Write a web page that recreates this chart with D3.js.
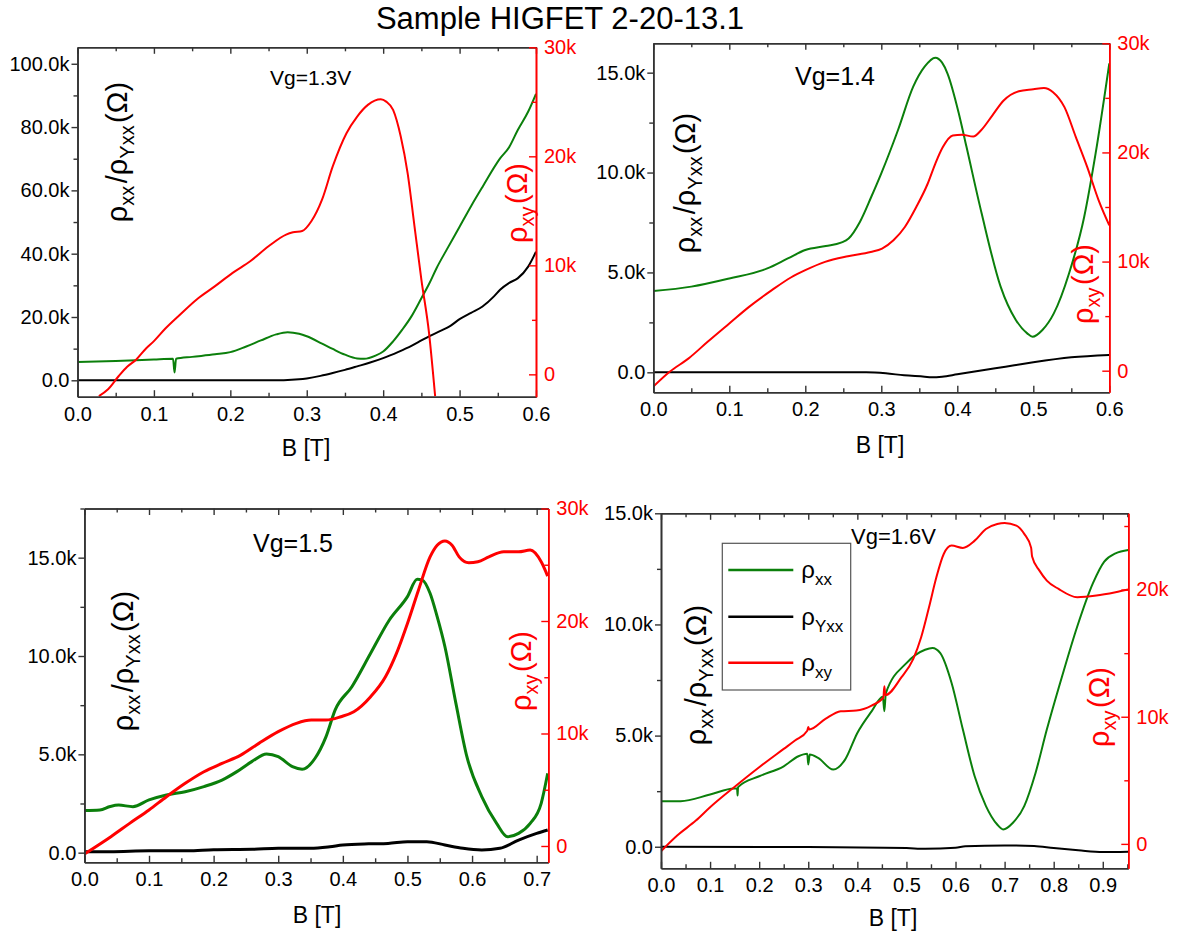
<!DOCTYPE html>
<html>
<head>
<meta charset="utf-8">
<script src="https://cdn.jsdelivr.net/npm/d3@7"></script>
<style>
  body { margin: 0; background: #fff; }
  svg { font-family: "Liberation Sans", Arial, sans-serif; }
</style>
</head>
<body>
<svg id="chart" width="1179" height="940"></svg>
<script>
// ---- Data (B in tesla, resistances in kΩ) ----

const TITLE = "Sample HIGFET 2-20-13.1";

// Vg = 1.3 V
const rxx13 = [[0,5.8],[0.05,6.1],[0.1,6.6],[0.125,6.8],[0.127,2.5],[0.129,6.8],[0.15,7.4],[0.18,8.2],[0.2,8.9],
  [0.22,10.6],[0.24,12.6],[0.26,14.5],[0.275,15.2],[0.29,14.7],[0.3,13.9],[0.32,11.6],[0.334,9.9],[0.35,8.1],
  [0.366,6.9],[0.375,6.8],[0.39,7.8],[0.4,9.1],[0.413,12.3],[0.425,16],[0.437,20.2],[0.45,25.9],[0.46,30.4],
  [0.47,35.5],[0.483,41.2],[0.5,48.5],[0.515,55],[0.53,61.1],[0.553,70.1],[0.565,73.7],[0.576,79],[0.59,85],[0.6,90.5]];
const rYxx13 = [[0,0],[0.1,0],[0.2,0],[0.27,0.05],[0.29,0.3],[0.3,0.6],[0.318,1.4],[0.334,2.3],[0.35,3.3],[0.366,4.4],
  [0.383,5.6],[0.4,7.0],[0.42,9.0],[0.437,10.9],[0.45,12.6],[0.46,13.9],[0.475,15.6],[0.488,17.2],[0.5,19.3],
  [0.515,21.3],[0.53,23.3],[0.545,26.5],[0.553,28.6],[0.565,30.8],[0.576,32.2],[0.59,36],[0.6,40.6]];
const rxy13 = [[0.028,-2.0],[0.04,-1.37],[0.054,-0.15],[0.065,0.7],[0.077,1.37],[0.09,2.4],[0.1,3.05],[0.115,4.2],
  [0.133,5.4],[0.156,6.87],[0.18,8.09],[0.203,9.31],[0.226,10.37],[0.25,11.75],[0.273,12.82],[0.282,13.03],
  [0.294,13.15],[0.306,14.04],[0.32,16.02],[0.334,19.07],[0.352,22.12],[0.366,23.65],[0.38,24.72],[0.397,25.24],
  [0.404,25.02],[0.413,24.26],[0.423,21.82],[0.432,18.46],[0.441,13.58],[0.45,8.7],[0.46,3.81],[0.468,-2.0]];

// Vg = 1.4 V
const rxx14 = [[0,4.07],[0.05,4.29],[0.1,4.7],[0.15,5.2],[0.177,5.7],[0.2,6.12],[0.227,6.32],[0.247,6.49],[0.257,6.7],
  [0.272,7.54],[0.287,8.8],[0.3,9.96],[0.322,12.13],[0.342,14.3],[0.357,15.3],[0.371,15.75],[0.38,15.5],[0.387,14.97],
  [0.402,12.96],[0.412,11.3],[0.432,7.96],[0.457,4.29],[0.477,2.62],[0.492,1.95],[0.499,1.78],[0.512,2.12],
  [0.527,2.95],[0.547,4.95],[0.567,7.79],[0.582,10.96],[0.6,15.47]];
const rYxx14 = [[0,0],[0.1,0],[0.2,0],[0.28,0],[0.306,-0.05],[0.33,-0.15],[0.357,-0.22],[0.366,-0.25],[0.38,-0.22],
  [0.4,-0.1],[0.425,0.05],[0.45,0.2],[0.475,0.35],[0.5,0.5],[0.55,0.75],[0.6,0.87]];
const rxy14 = [[0,-1.46],[0.0215,-0.1],[0.0465,1.13],[0.0715,2.65],[0.1,4.33],[0.126,5.85],[0.156,7.38],[0.181,8.54],
  [0.2,9.21],[0.226,9.97],[0.256,10.49],[0.286,10.88],[0.301,11.19],[0.316,11.95],[0.331,13.17],[0.346,15],
  [0.361,17.13],[0.371,18.96],[0.381,20.49],[0.394,21.55],[0.406,21.62],[0.421,21.46],[0.431,22.01],[0.446,23.38],
  [0.461,24.76],[0.481,25.61],[0.5,25.79],[0.514,25.91],[0.526,25.52],[0.541,24.15],[0.556,21.4],[0.571,18.66],
  [0.586,15.61],[0.6,13.32]];

// Vg = 1.5 V
const rxx15 = [[0,2.14],[0.024,2.17],[0.04,2.35],[0.053,2.42],[0.075,2.34],[0.1,2.68],[0.127,2.93],[0.156,3.1],
  [0.185,3.36],[0.213,3.69],[0.236,4.12],[0.259,4.63],[0.282,5.02],[0.3,4.88],[0.322,4.37],[0.337,4.24],[0.357,4.8],
  [0.374,5.9],[0.388,7.25],[0.414,8.44],[0.443,10.14],[0.472,11.83],[0.5,13.02],[0.515,13.9],[0.523,13.86],
  [0.535,13.19],[0.546,12.0],[0.558,10.47],[0.575,7.59],[0.592,4.88],[0.615,2.85],[0.638,1.49],[0.655,0.81],
  [0.672,0.98],[0.69,1.49],[0.707,2.51],[0.717,4.03]];
const rYxx15 = [[0,0.05],[0.04,0.05],[0.1,0.1],[0.16,0.1],[0.2,0.15],[0.26,0.17],[0.3,0.22],[0.35,0.22],[0.38,0.3],
  [0.4,0.39],[0.44,0.45],[0.47,0.47],[0.5,0.56],[0.53,0.56],[0.558,0.39],[0.586,0.22],[0.615,0.14],[0.643,0.22],
  [0.672,0.64],[0.7,0.98],[0.717,1.15]];
const rxy15 = [[0,-0.71],[0.041,0.83],[0.07,2.01],[0.1,3.2],[0.127,4.38],[0.156,5.57],[0.185,6.6],[0.213,7.34],
  [0.242,8.08],[0.27,9.12],[0.3,10.16],[0.328,10.9],[0.351,11.19],[0.374,11.19],[0.397,11.49],[0.417,11.93],
  [0.443,13.27],[0.466,15.04],[0.483,17.12],[0.5,19.78],[0.517,22.74],[0.535,25.7],[0.546,26.74],[0.558,27.12],
  [0.569,26.74],[0.58,25.7],[0.595,25.17],[0.609,25.26],[0.626,25.7],[0.649,26.15],[0.672,26.15],[0.69,26.3],
  [0.707,25.26],[0.717,23.99]];

// Vg = 1.6 V
const rxx16 = [[0,2.05],[0.04,2.05],[0.1,2.35],[0.149,2.62],[0.155,2.62],[0.156,2.3],[0.157,2.68],[0.2,3.17],
  [0.25,3.62],[0.28,4.07],[0.298,4.18],[0.3,3.7],[0.303,4.15],[0.32,4.0],[0.351,3.47],[0.375,3.92],[0.4,5.12],
  [0.429,6.09],[0.452,6.75],[0.455,6.1],[0.458,6.9],[0.5,8.26],[0.538,8.86],[0.553,8.94],[0.569,8.71],[0.592,7.37],
  [0.615,5.27],[0.639,3.17],[0.662,1.83],[0.685,1.0],[0.697,0.78],[0.717,1.08],[0.74,1.83],[0.763,3.32],
  [0.786,5.27],[0.817,7.66],[0.848,9.91],[0.88,11.86],[0.903,12.83],[0.926,13.2],[0.952,13.35]];
const rYxx16 = [[0,0],[0.3,-0.01],[0.5,-0.06],[0.538,-0.09],[0.6,-0.05],[0.62,0.02],[0.7,0.06],[0.76,0.03],
  [0.8,-0.06],[0.85,-0.16],[0.9,-0.24],[0.952,-0.22]];
const rxy16 = [[0,-0.58],[0.033,0.66],[0.071,1.83],[0.1,2.88],[0.149,4.46],[0.2,6.03],[0.25,7.47],[0.273,8.13],
  [0.298,8.9],[0.3,9.2],[0.302,9.0],[0.335,9.83],[0.366,10.43],[0.398,10.49],[0.429,10.88],[0.453,11.5],
  [0.455,12.4],[0.457,11.7],[0.49,13.11],[0.514,14.55],[0.53,16.25],[0.546,18.61],[0.561,20.97],[0.576,22.8],
  [0.592,23.46],[0.615,23.28],[0.639,23.85],[0.662,24.77],[0.685,25.16],[0.7,25.24],[0.724,25.03],[0.74,24.38],
  [0.754,23.3],[0.756,22.6],[0.771,21.49],[0.786,20.71],[0.81,20.05],[0.848,19.4],[0.887,19.53],[0.926,19.79],
  [0.952,20.0]];

// Tick values
const bTicks06 = [0, 0.1, 0.2, 0.3, 0.4, 0.5, 0.6];
const bTicks07 = [0, 0.1, 0.2, 0.3, 0.4, 0.5, 0.6, 0.7];
const bTicks09 = [0, 0.1, 0.2, 0.3, 0.4, 0.5, 0.6, 0.7, 0.8, 0.9];
const leftTicks13 = [0, 20, 40, 60, 80, 100];
const leftTicks15k = [0, 5, 10, 15];
const rightTicks30 = [0, 10, 20, 30];
const rightTicks20 = [0, 10, 20];

// Legend entries
const legendLabels = [["ρ", "xx"], ["ρ", "Yxx"], ["ρ", "xy"]];

const GREEN = "#0b7f0b", BLACK = "#000000", RED = "#ff0000", FRAME = "#333333";
const TICK_FONT = 20;

// ---- Layout of the four panels ----
const panels = [
  { box: [77.5, 536, 47.3, 396.7], xDom: [0, 0.6], xTicks: bTicks06, xMinor: 0.05,
    lDom: [-5.18, 105.2], lTicks: leftTicks13, lMinor: 10,
    rDom: [-2.05, 30], rTicks: rightTicks30, rMinor: 5,
    vg: { text: "Vg=1.3V", x: 270, y: 85, size: 21 },
    lTitle: [127, 152], rTitle: [527, 203], xTitle: [306, 456], width: 2,
    series: [[rxx13, "l", GREEN], [rYxx13, "l", BLACK], [rxy13, "r", RED]] },
  { box: [653.3, 1109.3, 43.3, 392.3], xDom: [0, 0.6], xTicks: bTicks06, xMinor: 0.05,
    lDom: [-1.0, 16.47], lTicks: leftTicks15k, lMinor: 2.5,
    rDom: [-1.98, 30], rTicks: rightTicks30, rMinor: 5,
    vg: { text: "Vg=1.4", x: 795, y: 85, size: 25 },
    lTitle: [695, 183], rTitle: [1093, 284], xTitle: [880, 453], width: 2,
    series: [[rxx14, "l", GREEN], [rYxx14, "l", BLACK], [rxy14, "r", RED]] },
  { box: [84.4, 548.3, 508.5, 862.3], xDom: [0, 0.718], xTicks: bTicks07, xMinor: 0.05,
    lDom: [-0.49, 17.5], lTicks: leftTicks15k, lMinor: 2.5,
    rDom: [-1.45, 30], rTicks: rightTicks30, rMinor: 5,
    vg: { text: "Vg=1.5", x: 253, y: 552, size: 25 },
    lTitle: [133, 661], rTitle: [531, 671], xTitle: [317, 923], width: 3,
    series: [[rxx15, "l", GREEN], [rYxx15, "l", BLACK], [rxy15, "r", RED]] },
  { box: [661, 1128.3, 513.3, 868.3], xDom: [0, 0.952], xTicks: bTicks09, xMinor: 0.05,
    lDom: [-0.97, 15], lTicks: leftTicks15k, lMinor: 2.5,
    rDom: [-1.92, 26], rTicks: rightTicks20, rMinor: 5,
    vg: { text: "Vg=1.6V", x: 851, y: 544, size: 22 },
    lTitle: [706, 675], rTitle: [1109, 707], xTitle: [893, 926], width: 2,
    series: [[rxx16, "l", GREEN], [rYxx16, "l", BLACK], [rxy16, "r", RED]],
    legend: { box: [722.3, 543.3, 128.4, 146.7], rows: [570, 616.7, 662.7] } }
];

const svg = d3.select("#chart");

svg.append("text")
  .attr("x", 560).attr("y", 29)
  .attr("text-anchor", "middle")
  .attr("font-size", 31)
  .attr("fill", "#000")
  .text(TITLE);

function range(a, b, step) {
  const out = [];
  for (let i = 0; a + i * step <= b + 1e-9; i++) out.push(+(a + i * step).toFixed(4));
  return out;
}

const fmtLeft = v => v === 0 ? "0.0" : d3.format(".1f")(v) + "k";
const fmtRight = v => v === 0 ? "0" : v + "k";
const fmtB = d3.format(".1f");

function styleAxis(g, color) {
  g.select(".domain").attr("stroke", color).attr("stroke-width", 1.6);
  g.selectAll(".tick line").attr("stroke", color).attr("stroke-width", 1.4);
  g.selectAll(".tick text").attr("fill", color).attr("font-size", TICK_FONT)
    .attr("font-family", "Liberation Sans, Arial, sans-serif");
}

// rotated axis title made of main glyphs and subscripts
function rotatedTitle(parent, x, y, parts, color) {
  const t = parent.append("text")
    .attr("transform", `translate(${x},${y}) rotate(-90)`)
    .attr("text-anchor", "middle")
    .attr("fill", color)
    .attr("font-size", 29);
  parts.forEach(([txt, sub]) => {
    if (sub) {
      t.append("tspan").attr("font-size", 20).attr("dy", 7).text(txt);
      t.append("tspan").attr("dy", -7).text("\u200A");
    } else {
      t.append("tspan").text(txt);
    }
  });
  return t;
}

panels.forEach((p, i) => {
  const [x0, x1, y0, y1] = p.box;
  const x = d3.scaleLinear().domain(p.xDom).range([x0, x1]);
  const yl = d3.scaleLinear().domain(p.lDom).range([y1, y0]);
  const yr = d3.scaleLinear().domain(p.rDom).range([y1, y0]);
  const g = svg.append("g");

  // clip area for the curves
  const clipId = "clip" + i;
  svg.append("clipPath").attr("id", clipId)
    .append("rect").attr("x", x0).attr("y", y0).attr("width", x1 - x0).attr("height", y1 - y0);

  // curves
  const curves = g.append("g").attr("clip-path", `url(#${clipId})`);
  p.series.forEach(([data, side, color]) => {
    const yy = side === "l" ? yl : yr;
    const line = d3.line().x(d => x(d[0])).y(d => yy(d[1])).curve(d3.curveMonotoneX);
    curves.append("path").datum(data)
      .attr("d", line)
      .attr("fill", "none")
      .attr("stroke", color)
      .attr("stroke-width", p.width)
      .attr("stroke-linejoin", "round");
  });

  // minor tick positions
  const xMinor = range(p.xDom[0], p.xDom[1], p.xMinor).filter(v => !p.xTicks.some(t => Math.abs(t - v) < 1e-6));
  const lMinor = range(0, p.lDom[1], p.lMinor).filter(v => !p.lTicks.some(t => Math.abs(t - v) < 1e-6));
  const rMinor = range(0, p.rDom[1], p.rMinor).filter(v => !p.rTicks.some(t => Math.abs(t - v) < 1e-6));

  // bottom axis (ticks pointing inward)
  const bx = g.append("g").attr("transform", `translate(0,${y1})`)
    .call(d3.axisBottom(x).tickValues(p.xTicks).tickFormat(fmtB).tickSize(-6.5).tickSizeOuter(0).tickPadding(10));
  styleAxis(bx, FRAME);
  bx.selectAll(".tick text").attr("fill", "#000");
  const bxm = g.append("g").attr("transform", `translate(0,${y1})`)
    .call(d3.axisBottom(x).tickValues(xMinor).tickFormat("").tickSize(-4).tickSizeOuter(0));
  styleAxis(bxm, FRAME);

  // top frame with inward ticks
  const tx = g.append("g").attr("transform", `translate(0,${y0})`)
    .call(d3.axisTop(x).tickValues(p.xTicks).tickFormat("").tickSize(-6.5).tickSizeOuter(0));
  styleAxis(tx, FRAME);
  const txm = g.append("g").attr("transform", `translate(0,${y0})`)
    .call(d3.axisTop(x).tickValues(xMinor).tickFormat("").tickSize(-4).tickSizeOuter(0));
  styleAxis(txm, FRAME);

  // left axis (ticks pointing outward)
  const la = g.append("g").attr("transform", `translate(${x0},0)`)
    .call(d3.axisLeft(yl).tickValues(p.lTicks).tickFormat(fmtLeft).tickSize(6).tickSizeOuter(0).tickPadding(2));
  styleAxis(la, FRAME);
  la.selectAll(".tick text").attr("fill", "#000");
  const lam = g.append("g").attr("transform", `translate(${x0},0)`)
    .call(d3.axisLeft(yl).tickValues(lMinor).tickFormat("").tickSize(4).tickSizeOuter(0));
  styleAxis(lam, FRAME);

  // right axis in red (ticks pointing inward)
  const ra = g.append("g").attr("transform", `translate(${x1},0)`)
    .call(d3.axisRight(yr).tickValues(p.rTicks).tickFormat(fmtRight).tickSize(-7).tickSizeOuter(0).tickPadding(8));
  styleAxis(ra, RED);
  const ram = g.append("g").attr("transform", `translate(${x1},0)`)
    .call(d3.axisRight(yr).tickValues(rMinor).tickFormat("").tickSize(-4).tickSizeOuter(0));
  styleAxis(ram, RED);

  // gate voltage label
  g.append("text").attr("x", p.vg.x).attr("y", p.vg.y)
    .attr("font-size", p.vg.size).attr("fill", "#000").text(p.vg.text);

  // axis titles
  rotatedTitle(g, p.lTitle[0], p.lTitle[1], [["ρ"], ["xx", true], ["/ρ"], ["Yxx", true], ["(Ω)"]], "#000");
  rotatedTitle(g, p.rTitle[0], p.rTitle[1], [["ρ"], ["xy", true], ["(Ω)"]], RED);
  g.append("text").attr("x", p.xTitle[0]).attr("y", p.xTitle[1])
    .attr("text-anchor", "middle").attr("font-size", 23).attr("fill", "#000").text("B [T]");

  // legend
  if (p.legend) {
    const [lx, ly, lw, lh] = p.legend.box;
    const lg = g.append("g");
    lg.append("rect").attr("x", lx).attr("y", ly).attr("width", lw).attr("height", lh)
      .attr("fill", "#fff").attr("stroke", "#555").attr("stroke-width", 1.2);
    p.series.forEach(([, , color], k) => {
      const ry = p.legend.rows[k];
      lg.append("line").attr("x1", lx + 6).attr("x2", lx + 71).attr("y1", ry).attr("y2", ry)
        .attr("stroke", color).attr("stroke-width", 2.5);
      const t = lg.append("text").attr("x", lx + 79).attr("y", ry + 8)
        .attr("font-size", 24).attr("fill", "#000");
      t.append("tspan").text(legendLabels[k][0]);
      t.append("tspan").attr("font-size", 17).attr("dy", 7).text(legendLabels[k][1]);
    });
  }
});
</script>
</body>
</html>
